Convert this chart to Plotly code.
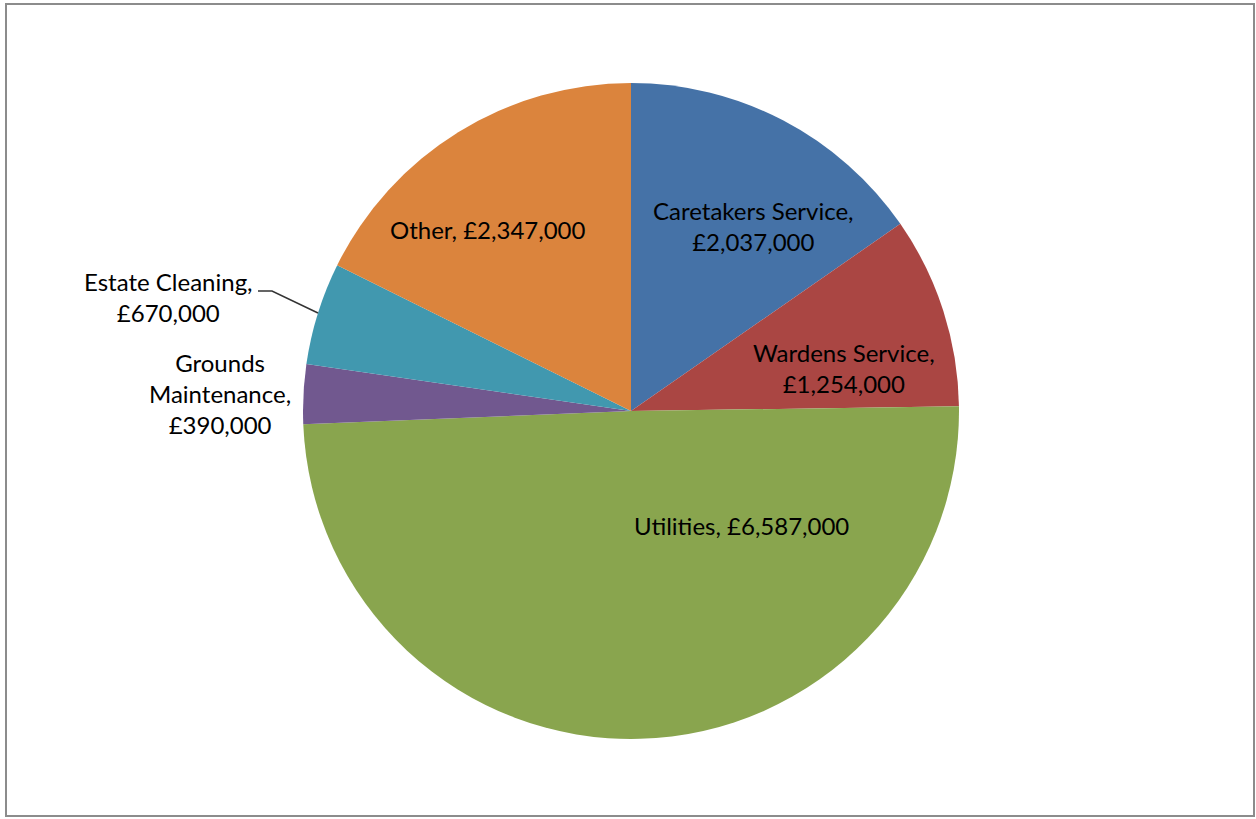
import plotly.graph_objects as go

# ---- data ----
categories = ["Caretakers Service", "Wardens Service", "Utilities",
              "Grounds Maintenance", "Estate Cleaning", "Other"]
values = [2037000, 1254000, 6587000, 390000, 670000, 2347000]
colors = ["#4572A7", "#AA4643", "#89A54E", "#71588F", "#4198AF", "#DB843D"]

# ---- layout helpers (pixels -> paper) ----
W, H = 1256, 819
CX, CY, R = 631, 411, 328


def px(x):
    return x / W


def py(y):
    return 1 - y / H


fig = go.Figure()
fig.add_trace(go.Pie(
    labels=categories,
    values=values,
    sort=False,
    direction="clockwise",
    rotation=0,
    marker=dict(colors=colors, line=dict(width=0)),
    textinfo="none",
    hoverinfo="label+value",
    showlegend=False,
    domain=dict(x=[px(CX - R), px(CX + R)], y=[py(CY + R), py(CY - R)]),
))

# label texts built from the data
def fmt(v):
    return "£{:,}".format(v)

label_text = {
    "Caretakers Service": "Caretakers Service,<br>" + fmt(values[0]),
    "Wardens Service": "Wardens Service,<br>" + fmt(values[1]),
    "Utilities": "Utilities, " + fmt(values[2]),
    "Grounds Maintenance": "Grounds<br>Maintenance,<br>" + fmt(values[3]),
    "Estate Cleaning": "Estate Cleaning,<br>" + fmt(values[4]),
    "Other": "Other, " + fmt(values[5]),
}
# label anchor positions (pixel centres of the label blocks)
label_pos = {
    "Caretakers Service": (753, 226),
    "Wardens Service": (844, 368),
    "Utilities": (741, 525),
    "Grounds Maintenance": (220, 393),
    "Estate Cleaning": (168, 297),
    "Other": (488, 229),
}

FONT = dict(family="Lato, 'Open Sans', sans-serif", size=24, color="#000000")
for cat in categories:
    x, y = label_pos[cat]
    fig.add_annotation(
        x=px(x), y=py(y), xref="paper", yref="paper",
        text=label_text[cat], showarrow=False, align="center",
        xanchor="center", yanchor="middle", font=FONT,
    )

# leader line for Estate Cleaning
pts = [(258, 291), (272, 291), (318, 313)]
path = "M " + " L ".join("{:.5f},{:.5f}".format(px(a), py(b)) for a, b in pts)
fig.add_shape(type="path", xref="paper", yref="paper", path=path,
              line=dict(color="#333333", width=1.5))

# chart frame
fig.add_shape(type="rect", xref="paper", yref="paper",
              x0=px(6), y0=py(816), x1=px(1254), y1=py(4),
              line=dict(color="#8C8C8C", width=2), fillcolor="rgba(0,0,0,0)")

fig.update_layout(
    width=W, height=H,
    margin=dict(l=0, r=0, t=0, b=0),
    paper_bgcolor="white",
    plot_bgcolor="white",
)

fig.write_html("out.html")
